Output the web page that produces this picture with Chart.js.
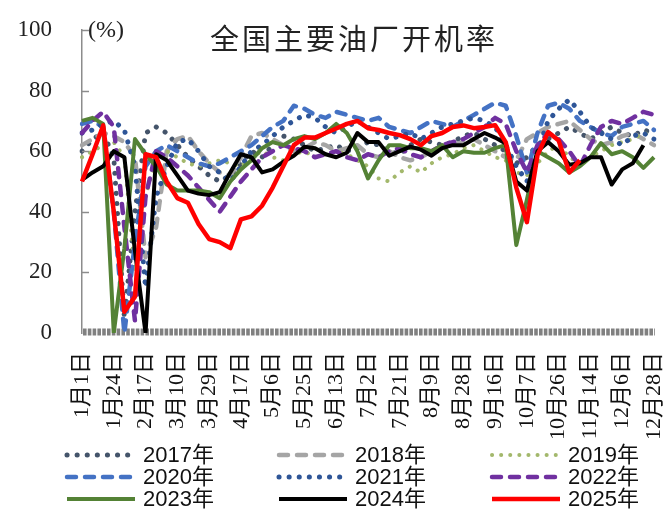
<!DOCTYPE html>
<html>
<head>
<meta charset="utf-8">
<script src="https://cdn.jsdelivr.net/npm/chart.js@4.4.1/dist/chart.umd.min.js"></script>
<style>
  body { margin: 0; background: #fff; }
  #wrap { width: 664px; height: 509px; }
</style>
</head>
<body>
<div id="wrap"><canvas id="myChart" width="664" height="509"></canvas></div>
<script>
const titleText = '全国主要油厂开机率';
const unitText = '(%)';

// one label every 3 weekly points
const tickLabels = ['1月1日', '1月24日', '2月17日', '3月10日', '3月29日', '4月17日', '5月6日', '5月25日', '6月13日',
  '7月2日', '7月21日', '8月9日', '8月28日', '9月16日', '10月7日', '10月26日', '11月14日', '12月6日', '12月28日'];
const weeksPerTick = 3;

const years = ['2017年', '2018年', '2019年', '2020年', '2021年', '2022年', '2023年', '2024年', '2025年'];

const y2017 = [60, 64, 66, 58, 5, 40, 66, 68, 66, 62, 58, 55, 52, 50, 52, 56, 60, 58, 62, 65, 64, 62, 60, 61, 62, 60, 61, 63,
  62, 60, 59, 62, 64, 63, 62, 63, 65, 66, 64, 62, 60, 56, 58, 62, 64, 66, 68, 66, 64, 66, 68, 66, 65, 67, 66];
const y2018 = [62, 64, 66, 65, 63, 58, 25, 35, 60, 64, 65, 60, 56, 53, 52, 58, 65, 66, 64, 62, 60, 61, 63, 62, 60, 61, 62, 59,
  58, 60, 58, 57, 58, 60, 61, 62, 63, 64, 62, 60, 58, 57, 64, 66, 68, 69, 70, 67, 64, 62, 63, 65, 66, 64, 62];
const y2019 = [58, 60, 62, 63, 58, 20, 45, 58, 60, 58, 56, 55, 56, 57, 56, 55, 58, 60, 58, 57, 59, 60, 58, 59, 60, 59, 57, 55,
  51, 50, 53, 55, 53, 56, 58, 59, 61, 62, 60, 58, 57, 53, 52, 56, 60, 62, 58, 56, 58, 60, 62, 63, 64, 66, 65];
const y2020 = [69, 70, 68, 40, 0, 30, 55, 60, 62, 60, 58, 56, 55, 56, 58, 60, 62, 65, 68, 70, 75, 74, 72, 71, 73, 72, 71, 70,
  71, 68, 67, 66, 68, 70, 69, 68, 70, 72, 74, 76, 75, 65, 53, 66, 75, 76, 74, 70, 68, 66, 65, 68, 69, 70, 67];
const y2021 = [66, 67, 69, 70, 67, 55, 15, 45, 55, 63, 64, 60, 55, 53, 50, 55, 60, 62, 65, 68, 70, 72, 71, 68, 66, 68, 70, 68,
  66, 64, 65, 66, 64, 66, 68, 69, 70, 71, 70, 68, 62, 55, 50, 60, 70, 74, 77, 73, 68, 66, 64, 62, 65, 66, 64];
const y2022 = [66, 70, 73, 68, 35, 4, 45, 60, 58, 55, 52, 48, 44, 40, 45, 50, 54, 58, 60, 62, 61, 60, 58, 59, 60, 58, 57, 59,
  58, 60, 61, 59, 58, 60, 62, 63, 64, 66, 68, 71, 69, 60, 53, 62, 66, 64, 60, 55, 62, 68, 70, 69, 71, 73, 72];
const y2023 = [70, 71, 69, 0, 28, 64, 59, 55, 49, 47, 47, 47, 46.5, 44.5, 50, 54, 57, 61, 63, 62, 64, 65, 64, 66, 69, 66, 60, 51,
  57, 62, 62, 61, 61, 60, 62, 58, 60, 59.5, 59.5, 61, 62, 29, 44, 60, 58, 56, 53, 55, 58, 62.7, 59, 60, 58, 54.5, 58];
const y2024 = [50.5, 53, 55, 60, 58, 27, 0, 59, 57, 52, 47, 46, 45.5, 46.5, 53, 59, 58, 53, 54, 56.5, 58.5, 61.5, 61, 59, 58, 59.5,
  66, 63, 63, 58.5, 60, 61.5, 60.5, 58.5, 61, 62, 62, 64, 66, 64.5, 62.5, 50, 47, 60, 63, 60, 55.5, 56, 58, 58, 49, 54, 56, 62, null];
const y2025 = [50, 59, 68.5, 40, 7, 12, 59, 58, 50, 44.5, 43, 36, 31, 30, 28, 37.5, 38.5, 42, 48, 55, 62, 64.5, 64.5, 66, 67.5, 69,
  70, 67.6, 67, 66, 65.3, 64, 62, 65, 66, 68, 68.5, 67.6, 68, 68.6, 63, 48, 36.6, 58.7, 66.3, 63.5, 53, 57,
  null, null, null, null, null, null, null];

const seriesValues = [y2017, y2018, y2019, y2020, y2021, y2022, y2023, y2024, y2025];

// line styles per year
const lineStyles = [
  { color: '#44546a', width: 5, dash: [0.1, 10], cap: 'round' },
  { color: '#a5a5a5', width: 4.5, dash: [9, 9], cap: 'round' },
  { color: '#a3b86c', width: 4, dash: [0.1, 9], cap: 'round' },
  { color: '#4472c4', width: 4.5, dash: [9, 9], cap: 'round' },
  { color: '#2e5597', width: 5, dash: [0.1, 10], cap: 'round' },
  { color: '#7030a0', width: 4.5, dash: [9, 9], cap: 'round' },
  { color: '#548235', width: 4, dash: [], cap: 'butt' },
  { color: '#000000', width: 4, dash: [], cap: 'butt' },
  { color: '#ff0000', width: 4.5, dash: [], cap: 'butt' }
];

const categories = y2017.map((v, i) => (i % weeksPerTick === 0 ? tickLabels[i / weeksPerTick] : ''));

const datasets = years.map((label, i) => ({
  label: label,
  data: seriesValues[i],
  borderColor: lineStyles[i].color,
  borderWidth: lineStyles[i].width,
  borderDash: lineStyles[i].dash,
  borderCapStyle: lineStyles[i].cap,
  borderJoinStyle: 'round',
  pointRadius: 0,
  tension: 0,
  fill: false,
  order: years.length - i
}));

const legendCols = [65, 277, 490];
const legendRows = [455, 477, 499];

const decorPlugin = {
  id: 'decor',
  beforeDatasetsDraw(chart) {
    // hatched category axis band along zero
    const ctx = chart.ctx;
    const area = chart.chartArea;
    const y0 = chart.scales.y.getPixelForValue(0) - 1;
    ctx.save();
    ctx.strokeStyle = '#808080';
    ctx.lineWidth = 7;
    ctx.setLineDash([3.6, 1.2]);
    ctx.beginPath();
    ctx.moveTo(area.left + 1, y0);
    ctx.lineTo(area.right + 1, y0);
    ctx.stroke();
    ctx.restore();
  },
  afterDraw(chart) {
    const ctx = chart.ctx;
    const area = chart.chartArea;
    const yScale = chart.scales.y;
    ctx.save();

    // short inward ticks on the value axis
    ctx.strokeStyle = '#8c8c8c';
    ctx.lineWidth = 1.5;
    yScale.ticks.forEach(t => {
      if (t.value === 0) return;
      const y = Math.round(yScale.getPixelForValue(t.value)) + 0.5;
      ctx.beginPath();
      ctx.moveTo(area.left, y);
      ctx.lineTo(area.left + 7, y);
      ctx.stroke();
    });

    ctx.fillStyle = '#222';
    ctx.textBaseline = 'middle';
    ctx.textAlign = 'left';
    ctx.font = "24px 'Liberation Serif', serif";
    ctx.fillText(unitText, area.left + 6, area.top + 1);

    ctx.textAlign = 'center';
    ctx.font = "29px 'Noto Sans CJK SC'";
    ctx.letterSpacing = '3px';
    ctx.fillText(titleText, 354, 39);
    ctx.letterSpacing = '0px';

    // legend, 3 columns
    ctx.textAlign = 'left';
    ctx.font = "22px 'Liberation Sans', 'Noto Sans CJK SC'";
    ctx.fillStyle = '#111';
    chart.data.datasets.forEach((ds, i) => {
      const x = legendCols[i % 3];
      const y = legendRows[Math.floor(i / 3)];
      ctx.strokeStyle = ds.borderColor;
      ctx.lineWidth = ds.borderWidth;
      ctx.lineCap = ds.borderCapStyle;
      ctx.setLineDash(ds.borderDash);
      ctx.beginPath();
      ctx.moveTo(x + 2, y);
      ctx.lineTo(x + 70, y);
      ctx.stroke();
      ctx.setLineDash([]);
      ctx.fillText(ds.label, x + 78, y + 1);
    });
    ctx.restore();
  }
};

const chartCanvas = document.getElementById('myChart').getContext('2d');
new Chart(chartCanvas, {
  type: 'line',
  data: { labels: categories, datasets: datasets },
  options: {
    responsive: false,
    animation: false,
    layout: { padding: { top: 30, right: 10, left: 0, bottom: 0 } },
    plugins: { legend: { display: false }, tooltip: { enabled: false } },
    scales: {
      x: {
        grid: { display: false, drawTicks: false },
        border: { display: false },
        ticks: {
          autoSkip: false,
          maxRotation: 90,
          minRotation: 90,
          padding: 19,
          color: '#111',
          font: { family: "'Liberation Serif', 'Noto Sans CJK SC'", size: 22 },
          callback: (v, i) => categories[i]
        },
        afterFit: s => { s.height = 176; s.paddingLeft = 0; s.paddingRight = 0; }
      },
      y: {
        min: 0,
        max: 100,
        grid: { display: false, drawTicks: false },
        border: { display: true, color: '#8c8c8c', width: 1.5 },
        ticks: {
          stepSize: 20,
          padding: 30,
          color: '#222',
          font: { family: "'Liberation Serif', serif", size: 23 }
        },
        afterFit: s => { s.width = 82; s.paddingTop = 0; s.paddingBottom = 0; }
      }
    }
  },
  plugins: [decorPlugin]
});
</script>
</body>
</html>
